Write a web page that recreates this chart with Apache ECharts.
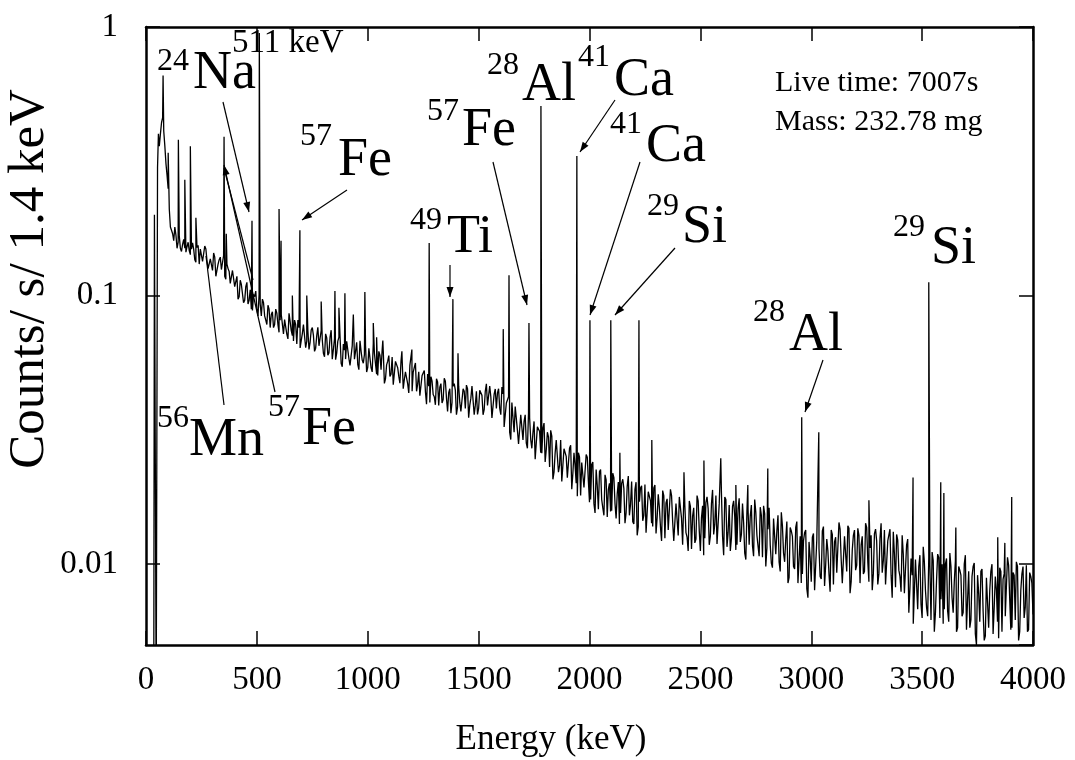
<!DOCTYPE html>
<html>
<head>
<meta charset="utf-8">
<script src="https://cdn.jsdelivr.net/npm/echarts@6/dist/echarts.min.js"></script>
<style>
html,body{margin:0;padding:0;background:#fff;}
#c{width:1075px;height:760px;}
</style>
</head>
<body>
<div id="c"></div>
<script>
// ---------------- DATA ----------------
const xTickLabels = ['0','500','1000','1500','2000','2500','3000','3500','4000'];
const yTickLabels = ['0.01','0.1','1'];

// low-energy threshold edge of the spectrum (keV, counts/s/1.4keV)
const edgeE      = [35, 38, 46, 52, 56];
const edgeCounts = [0.003, 0.2, 0.003, 0.3, 0.4];

// continuum (background) read every 10 keV starting at 60 keV
const bgStartKeV = 60;
const bgStepKeV = 10;
const bgCounts = [
0.36,0.44,0.41,0.31,0.25,0.18,0.17,0.18,0.15,0.167,0.146,0.162,0.145,0.158,0.142,
0.157,0.136,0.151,0.131,0.150,0.136,0.149,0.126,0.137,0.124,0.139,0.120,0.136,0.125,0.141,0.115,0.126,0.111,0.124,0.108,
0.118,0.099,0.110,0.094,0.108,0.093,0.105,0.088,0.099,0.089,0.101,0.084,0.094,0.081,0.092,0.076,0.087,0.078,0.086,0.073,
0.085,0.072,0.082,0.069,0.080,0.071,0.081,0.066,0.076,0.068,0.078,0.064,0.074,0.067,0.076,0.062,0.071,0.065,0.074,0.061,
0.072,0.060,0.070,0.058,0.069,0.061,0.070,0.056,0.066,0.058,0.068,0.055,0.065,0.058,0.067,0.053,0.062,0.056,0.065,0.054,
0.064,0.052,0.061,0.051,0.062,0.053,0.062,0.049,0.057,0.050,0.059,0.047,0.056,0.050,0.057,0.045,0.052,0.047,0.055,0.044,
0.054,0.044,0.052,0.042,0.051,0.044,0.051,0.040,0.048,0.042,0.049,0.039,0.047,0.041,0.048,0.037,0.045,0.040,0.047,0.036,
0.046,0.037,0.045,0.038,0.045,0.039,0.046,0.036,0.044,0.038,0.045,0.036,0.044,0.039,0.046,0.035,0.043,0.038,0.045,0.036,
0.043,0.032,0.040,0.031,0.040,0.031,0.039,0.028,0.036,0.029,0.036,0.027,0.035,0.027,0.034,0.025,0.032,0.026,0.032,0.024,
0.031,0.023,0.030,0.022,0.029,0.022,0.029,0.020,0.027,0.021,0.027,0.019,0.026,0.020,0.026,0.018,0.024,0.019,0.025,0.017,
0.0235,0.0168,0.0225,0.016,0.0225,0.0162,0.0215,0.015,0.020,0.0158,0.021,0.0148,0.0202,0.0155,0.0207,0.0142,0.0195,0.0152,0.0203,0.0141,
0.0202,0.0138,0.0192,0.0145,0.0198,0.0132,0.0185,0.0142,0.0192,0.013,0.0182,0.0138,0.0188,0.0125,0.0175,0.0134,0.018,0.0122,0.0168,0.0128,
0.0176,0.0118,0.0165,0.0126,0.0172,0.0114,0.0162,0.0124,0.0172,0.0112,0.0165,0.0125,0.0178,0.0118,0.0168,0.0129,0.018,0.0117,0.017,0.0127,
0.0178,0.0116,0.0166,0.0125,0.0172,0.0113,0.0161,0.0121,0.0168,0.011,0.0158,0.0118,0.0166,0.0107,0.0156,0.0117,0.0163,0.0106,0.0154,0.0115,
0.0162,0.0101,0.0148,0.0109,0.0152,0.0094,0.0139,0.0102,0.0144,0.0089,0.0133,0.0098,0.0137,0.0085,0.0127,0.0092,0.0131,0.0081,0.0121,0.0086,
0.013,0.008,0.0122,0.009,0.0133,0.0083,0.0124,0.0092,0.0134,0.0084,0.0126,0.0093,0.0135,0.0085,0.0127,0.0094,0.0136,0.0086,0.0128,0.0095,
0.0136,0.0085,0.0127,0.0094,0.0137,0.0086,0.0128,0.0092,0.0135,0.0084,0.0125,0.0093,0.0134,0.0083,0.0124,0.0091,0.0132,0.0082,0.0123,0.009,
0.0128,0.0078,0.0118,0.0066,0.0105,0.006,0.0104,0.0068,0.0108,0.0063,0.0102,0.0069,0.0106,0.0062,0.0103,0.0066,0.0109,0.0063,0.01,0.0068,
0.0105,0.0061,0.0098,0.0066,0.0103,0.0058,0.0095,0.0064,0.01,0.0057,0.0094,0.0062,0.0098,0.0055,0.0091,0.0061,0.0096,0.0052,0.0089,0.0058,
0.0094,0.0055,0.009,0.0061,0.0097,0.0056,0.0092,0.0063,0.0099,0.0057,0.0093,0.0062,0.0098,0.0056,0.0092,0.0063,0.0099,0.0057,0.009,0.0065
];

// continuum read between those channels: every 10 keV starting at 65 keV
const bgMidStartKeV = 65;
const bgMidCounts = [
0.40,0.46,0.36,0.28,0.21,0.175,0.16,0.168,0.158,0.150,0.155,0.150,0.152,0.147,0.149,
0.149,0.133,0.154,0.149,0.134,0.153,0.135,0.125,0.139,0.144,0.118,0.131,0.139,0.126,0.118,0.131,0.123,0.110,0.125,0.108,
0.097,0.114,0.109,0.096,0.112,0.096,0.089,0.101,0.104,0.084,0.093,0.097,0.084,0.078,0.089,0.085,0.076,0.089,0.078,0.081,
0.0848,0.0814,0.0719,0.0859,0.074,0.0678,0.0779,0.081,0.0638,0.0722,0.0774,0.0677,0.063,0.0744,0.0711,0.0637,0.0762,0.0655,0.0683,0.0592,
0.0696,0.0612,0.0743,0.063,0.0577,0.0677,0.0706,0.0543,0.0627,0.0676,0.0583,0.0543,0.0652,0.062,0.0554,0.0679,0.0575,0.0603,0.0519,0.0636,
0.0538,0.0665,0.0556,0.0504,0.060,0.0628,0.0471,0.0552,0.0598,0.051,0.0466,0.0569,0.0539,0.0472,0.0583,0.0487,0.0512,0.0434,0.0543,0.0519,
0.0561,0.0468,0.0424,0.0504,0.0526,0.0394,0.046,0.0499,0.0428,0.0392,0.0477,0.0456,0.0398,0.0492,0.0415,0.0435,0.0365,0.046,0.0445,0.0385,
0.040,0.0366,0.044,0.0464,0.0351,0.0415,0.0454,0.039,0.0361,0.0444,0.0425,0.0376,0.0469,0.0395,0.042,0.0356,0.0449,0.0434,0.0381,0.0457,
0.0324,0.0398,0.042,0.0291,0.035,0.0386,0.0315,0.0281,0.0365,0.034,0.0282,0.0366,0.0291,0.0309,0.0246,0.0325,0.0312,0.0259,0.0335,0.0267,
0.0298,0.0315,0.0207,0.0259,0.0288,0.0233,0.0203,0.0269,0.0252,0.0207,0.0277,0.0218,0.0233,0.0179,0.025,0.0239,0.0193,0.0256,0.0203,0.0174,
0.024,0.0155,0.0196,0.0221,0.0174,0.0152,0.0206,0.019,0.0157,0.0218,0.0168,0.0183,0.0141,0.020,0.0191,0.0155,0.0213,0.0167,0.0144,0.019,
0.0128,0.0171,0.0196,0.0152,0.0131,0.0186,0.0172,0.0138,0.0197,0.0149,0.0163,0.0122,0.018,0.0169,0.0134,0.019,0.0144,0.0122,0.0166,0.0178,
0.0148,0.0174,0.0131,0.0112,0.0164,0.0151,0.012,0.018,0.0133,0.0149,0.0108,0.017,0.0161,0.0127,0.0189,0.0141,0.0119,0.0168,0.0184,0.0108,
0.0174,0.0131,0.0112,0.0164,0.015,0.0118,0.0176,0.0129,0.0143,0.0104,0.016,0.0151,0.0117,0.0174,0.0128,0.0107,0.0152,0.0165,0.0098,0.0135,
0.0118,0.0097,0.0147,0.0133,0.0102,0.0156,0.011,0.0124,0.0085,0.0137,0.0127,0.0096,0.0144,0.0104,0.0085,0.0122,0.0134,0.0075,0.0106,0.0126,
0.008,0.0123,0.0114,0.0088,0.0138,0.0099,0.0112,0.0079,0.0129,0.0121,0.0093,0.0143,0.0104,0.0085,0.0126,0.0139,0.0078,0.0113,0.0134,0.0099,
0.0128,0.0118,0.0092,0.0142,0.0102,0.0115,0.008,0.013,0.0122,0.0092,0.0142,0.0103,0.0084,0.0122,0.0135,0.0075,0.0109,0.0129,0.0095,0.0079,
0.0109,0.0078,0.0124,0.0081,0.0091,0.006,0.0105,0.0098,0.0071,0.0116,0.008,0.0064,0.0099,0.0111,0.0056,0.0087,0.0106,0.0074,0.006,0.01,
0.0067,0.011,0.0075,0.0086,0.0056,0.0098,0.0091,0.0066,0.0108,0.0074,0.0058,0.009,0.0101,0.005,0.0078,0.0094,0.0067,0.0054,0.0088,0.008,
0.01,0.0069,0.008,0.0053,0.0094,0.0088,0.0064,0.0106,0.0074,0.0058,0.0091,0.0102,0.0052,0.008,0.0098,0.0069,0.0056,0.0093,0.0085
];

// gamma peaks (keV) and their heights
const peakE = [77,100,146,175,200,225,352,362,478,511,600,609,660,694,725,790,852,870,897,935,987,1025,1040,1068,1154,1199,1277,1384,1407,1611,1637,1727,1781,1943,2002,2096,2137,2223,2281,2426,2516,2592,2660,2714,2804,2957,3034,3260,3459,3530,3584,3598,3652,3841,3873,3904];
const peakCounts = [0.66,0.34,0.38,0.27,0.36,0.195,0.39,0.17,0.19,0.95,0.21,0.16,0.10,0.175,0.10,0.095,0.104,0.09,0.102,0.085,0.103,0.079,0.07,0.068,0.062,0.063,0.157,0.097,0.061,0.075,0.119,0.079,0.508,0.331,0.081,0.081,0.026,0.081,0.029,0.022,0.0243,0.0248,0.0197,0.0197,0.0227,0.0352,0.031,0.0173,0.021,0.112,0.0202,0.0184,0.0137,0.0126,0.012,0.0178];

// ---------------- BUILD ----------------
function buildSpectrum() {
  const pts = [];
  for (let i = 0; i < edgeE.length; i++) pts.push([edgeE[i], edgeCounts[i]]);
  for (let i = 0; i < bgCounts.length; i++) pts.push([bgStartKeV + i * bgStepKeV, bgCounts[i]]);
  for (let i = 0; i < bgMidCounts.length; i++) pts.push([bgMidStartKeV + i * bgStepKeV, bgMidCounts[i]]);
  for (let i = 0; i < peakE.length; i++) pts.push([peakE[i], peakCounts[i]]);
  pts.sort((a, b) => a[0] - b[0]);
  return pts;
}

const serif = "'Liberation Serif','Times New Roman',serif";
const chart = echarts.init(document.getElementById('c'), null, {renderer: 'canvas'});

const tickStyle = {color: '#000', width: 1.5};
const frameStyle = {color: '#000', width: 2.5};

function xAxisCfg(pos, showLabel) {
  return {
    type: 'value', min: 0, max: 4000, interval: 500, position: pos,
    axisLine: {show: true, onZero: false, lineStyle: frameStyle},
    axisTick: {show: true, inside: true, length: 14, lineStyle: tickStyle},
    axisLabel: {
      show: showLabel, margin: 19, fontFamily: serif, fontSize: 33, color: '#000',
      formatter: v => xTickLabels[Math.round(v / 500)] || ''
    },
    splitLine: {show: false}
  };
}
function yAxisCfg(pos, showLabel) {
  return {
    type: 'log', logBase: 10, min: 0.005, max: 1, position: pos,
    axisLine: {show: true, onZero: false, lineStyle: frameStyle},
    axisTick: {show: true, inside: true, length: 14, lineStyle: tickStyle},
    axisLabel: {
      show: showLabel, margin: 28, fontFamily: serif, fontSize: 33, color: '#000',
      showMinLabel: false,
      formatter: v => {
        const l = Math.log10(v);
        if (Math.abs(l - Math.round(l)) > 1e-6) return '';
        const idx = Math.round(l) + 2;
        return yTickLabels[idx] || '';
      }
    },
    splitLine: {show: false}, minorTick: {show: false}
  };
}

// annotation texts: [text, left x, centre y, font size]
const labelItems = [
  ['24', 157, 62, 32], ['Na', 193, 74, 54],
  ['511 keV', 232, 43, 33],
  ['57', 300, 137, 32], ['Fe', 338, 161, 54],
  ['56', 157, 419, 32], ['Mn', 189, 441, 54],
  ['57', 268, 408, 32], ['Fe', 302, 430, 54],
  ['49', 410, 221, 32], ['Ti', 447, 238, 54],
  ['57', 427, 112, 32], ['Fe', 462, 131, 54],
  ['28', 487, 66, 32], ['Al', 522, 86, 54],
  ['41', 578, 58, 32], ['Ca', 614, 81, 54],
  ['41', 610, 125, 32], ['Ca', 646, 147, 54],
  ['29', 647, 207, 32], ['Si', 682, 228, 54],
  ['28', 753, 313, 32], ['Al', 789, 336, 54],
  ['29', 893, 228, 32], ['Si', 931, 249, 54],
  ['Live time: 7007s', 775, 83, 30],
  ['Mass: 232.78 mg', 775, 122, 30]
];
// arrows: [x1, y1, x2, y2, hasHead]
const arrowItems = [
  [223, 102, 249, 212, 1],
  [347, 190, 302, 220, 1],
  [224, 405, 206, 256, 0],
  [275, 392, 224, 165, 1],
  [224, 168, 253, 280, 0],
  [450, 265, 450, 297, 1],
  [493, 162, 527, 305, 1],
  [615, 100, 580, 152, 1],
  [640, 162, 590, 315, 1],
  [675, 248, 615, 315, 1],
  [823, 360, 805, 412, 1]
];

const graphics = [];
labelItems.forEach(([t, x, y, fs]) => {
  graphics.push({
    type: 'text', z: 100, silent: true,
    style: {text: t, x: x, y: y, fill: '#000', font: fs + 'px ' + serif, textAlign: 'left', verticalAlign: 'middle', textVerticalAlign: 'middle'}
  });
});
arrowItems.forEach(([x1, y1, x2, y2, head]) => {
  graphics.push({type: 'line', z: 100, silent: true, shape: {x1, y1, x2, y2}, style: {stroke: '#000', lineWidth: 1.2}});
  if (head) {
    const dx = x2 - x1, dy = y2 - y1, len = Math.hypot(dx, dy);
    const ux = dx / len, uy = dy / len, L = 10, W = 3.5;
    const bx = x2 - ux * L, by = y2 - uy * L;
    graphics.push({type: 'polygon', z: 101, silent: true,
      shape: {points: [[x2, y2], [bx - uy * W, by + ux * W], [bx + uy * W, by - ux * W]]},
      style: {fill: '#000'}});
  }
});
graphics.push({
  type: 'text', z: 100, silent: true, x: 30, y: 279, rotation: Math.PI / 2,
  style: {text: 'Counts/ s/ 1.4 keV', x: 0, y: 0, fill: '#000', font: '51px ' + serif, textAlign: 'center', verticalAlign: 'middle', textVerticalAlign: 'middle'}
});
graphics.push({
  type: 'text', z: 100, silent: true,
  style: {text: 'Energy (keV)', x: 551, y: 740, fill: '#000', font: '35px ' + serif, textAlign: 'center', verticalAlign: 'middle', textVerticalAlign: 'middle'}
});

chart.setOption({
  animation: false,
  backgroundColor: '#fff',
  grid: {left: 146, right: 42, top: 27, bottom: 115, containLabel: false},
  xAxis: [xAxisCfg('bottom', true), xAxisCfg('top', false)],
  yAxis: [yAxisCfg('left', true), yAxisCfg('right', false)],
  series: [{
    type: 'line', name: 'spectrum', xAxisIndex: 0, yAxisIndex: 0,
    data: buildSpectrum(), showSymbol: false, symbol: 'none', clip: true,
    lineStyle: {color: '#000', width: 1.3}, z: 2
  }],
  graphic: graphics
});
</script>
</body>
</html>
